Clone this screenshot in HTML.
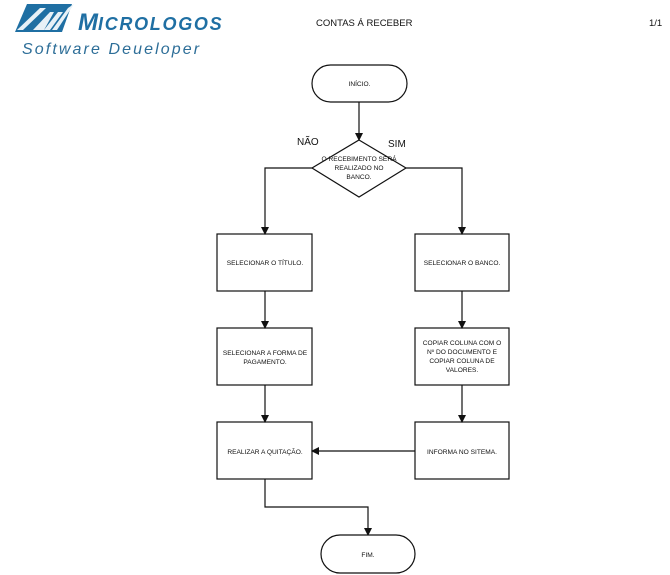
<!DOCTYPE html>
<html><head><meta charset="utf-8"><style>
html,body{margin:0;padding:0;background:#fff;}
body{width:670px;height:575px;overflow:hidden;position:relative;font-family:"Liberation Sans",sans-serif;}
svg{position:absolute;left:0;top:0;}
</style></head><body>
<svg width="670" height="575" viewBox="0 0 670 575" xmlns="http://www.w3.org/2000/svg">
<defs>
<marker id="ah" markerWidth="8" markerHeight="8" refX="7" refY="4" orient="auto" markerUnits="userSpaceOnUse">
<path d="M0,0 L8,4 L0,8 Z" fill="#111"/>
</marker>
</defs>
<!-- logo icon -->
<polygon points="27,4 72,4 62,32 15,32" fill="#1f6fa3"/>
<polygon points="17,30 40,8 46,8 23,30" fill="#e8f1f7"/>
<polygon points="33,30 50,12 54,12 44,30" fill="#e8f1f7"/>
<polygon points="44,30 58,12 63,12 50,30" fill="#e8f1f7"/>
<polygon points="52,30 68,8 74,4 57,30" fill="#e8f1f7"/>
<text x="78" y="30" font-family="Liberation Sans, sans-serif" font-weight="bold" font-style="italic" fill="#1f6fa3" font-size="24">M<tspan font-size="18" letter-spacing="1.7">ICROLOGOS</tspan></text>
<text x="22" y="54" font-family="Liberation Sans, sans-serif" font-style="italic" fill="#2d6e98" font-size="16" letter-spacing="2.1">Software Deueloper</text>
<!-- header -->
<text x="316" y="26" font-size="9.5" fill="#111">CONTAS Á RECEBER</text>
<text x="649" y="26" font-size="9.5" fill="#111">1/1</text>

<g stroke="#111" stroke-width="1.2" fill="none">
<!-- inicio -->
<rect x="312" y="65" width="95" height="37" rx="18.5" ry="18.5" fill="#fff"/>
<line x1="359" y1="102" x2="359" y2="140" marker-end="url(#ah)"/>
<!-- diamond -->
<polygon points="359,140 406,168 359,197 312,168" fill="#fff"/>
<polyline points="312,168 265,168 265,234" marker-end="url(#ah)"/>
<polyline points="406,168 462,168 462,234" marker-end="url(#ah)"/>
<!-- left column -->
<rect x="217" y="234" width="95" height="57"/>
<line x1="265" y1="291" x2="265" y2="328" marker-end="url(#ah)"/>
<rect x="217" y="328" width="95" height="57"/>
<line x1="265" y1="385" x2="265" y2="422" marker-end="url(#ah)"/>
<rect x="217" y="422" width="95" height="57"/>
<!-- right column -->
<rect x="415" y="234" width="94" height="57"/>
<line x1="462" y1="291" x2="462" y2="328" marker-end="url(#ah)"/>
<rect x="415" y="328" width="94" height="57"/>
<line x1="462" y1="385" x2="462" y2="422" marker-end="url(#ah)"/>
<rect x="415" y="422" width="94" height="57"/>
<line x1="415" y1="451" x2="312" y2="451" marker-end="url(#ah)"/>
<!-- to fim -->
<polyline points="265,479 265,507 368,507 368,535" marker-end="url(#ah)"/>
<rect x="321" y="535" width="94" height="38" rx="19" ry="19" fill="#fff"/>
</g>

<g font-size="6.6" fill="#111" text-anchor="middle" font-family="Liberation Sans, sans-serif">
<text x="359.5" y="86">INÍCIO.</text>
<text x="359" y="161">O RECEBIMENTO SERÁ</text>
<text x="359" y="170">REALIZADO NO</text>
<text x="359" y="179">BANCO.</text>
<text x="265" y="265">SELECIONAR O TÍTULO.</text>
<text x="265" y="355">SELECIONAR A FORMA DE</text>
<text x="265" y="364">PAGAMENTO.</text>
<text x="265" y="454">REALIZAR A QUITAÇÃO.</text>
<text x="462" y="265">SELECIONAR O BANCO.</text>
<text x="462" y="345">COPIAR COLUNA COM O</text>
<text x="462" y="354">Nº DO DOCUMENTO E</text>
<text x="462" y="363">COPIAR COLUNA DE</text>
<text x="462" y="372">VALORES.</text>
<text x="462" y="454">INFORMA NO SITEMA.</text>
<text x="368" y="557">FIM.</text>
</g>
<text x="297" y="145" font-size="10" fill="#111">NÃO</text>
<text x="388" y="147" font-size="10" fill="#111">SIM</text>
</svg>
</body></html>
